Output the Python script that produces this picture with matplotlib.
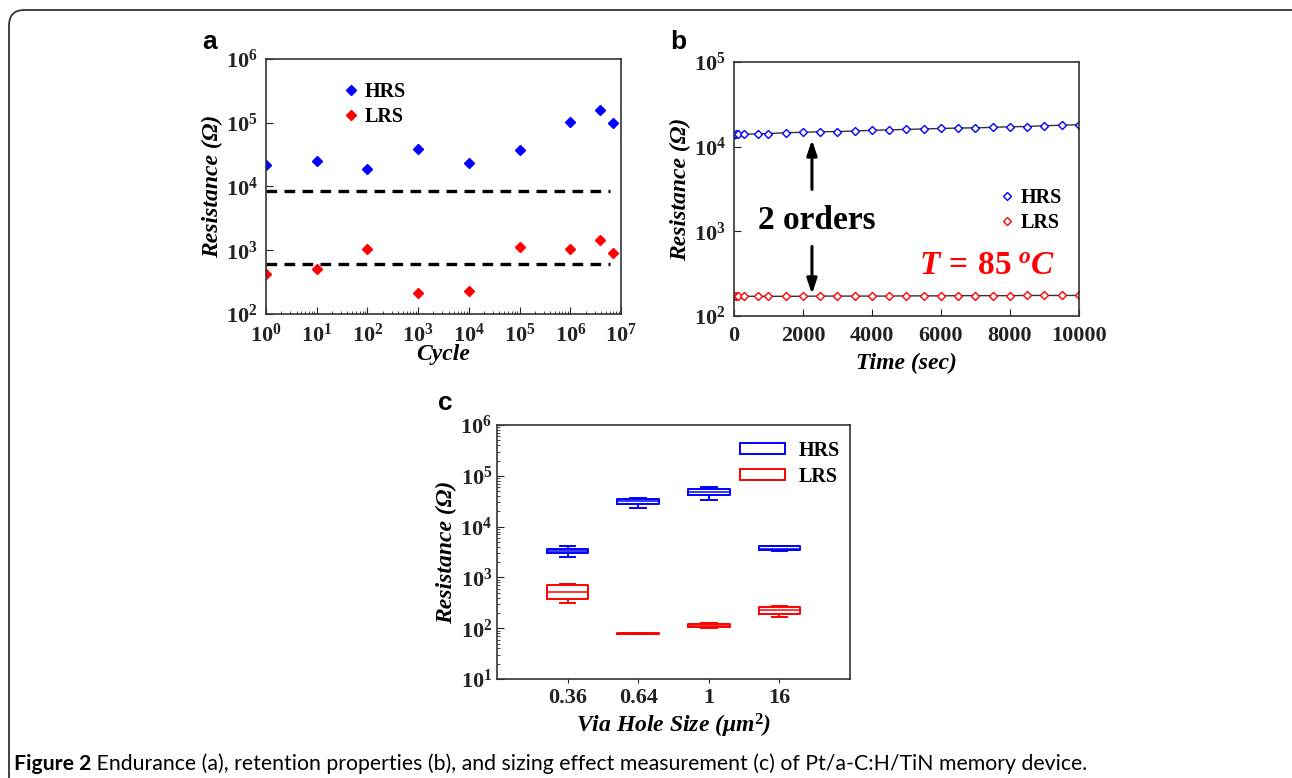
import math
import matplotlib
matplotlib.use('Agg')
import matplotlib.pyplot as plt
from matplotlib.patches import FancyBboxPatch, Patch
from matplotlib.ticker import FixedLocator, FuncFormatter, LogLocator, NullFormatter

plt.rcParams['font.family'] = ['Liberation Serif', 'DejaVu Serif']
plt.rcParams['font.weight'] = 'bold'
plt.rcParams['mathtext.fontset'] = 'custom'
plt.rcParams['mathtext.rm'] = 'Liberation Serif:bold'
plt.rcParams['mathtext.bf'] = 'Liberation Serif:bold'
plt.rcParams['mathtext.it'] = 'Liberation Serif:bold:italic'

# (a) endurance
cycles = [1, 10, 100, 1e3, 1e4, 1e5, 1e6, 3.9e6, 6.9e6]
hrs_cycle = [2.2e4, 2.47e4, 1.9e4, 3.9e4, 2.35e4, 3.67e4, 1.04e5, 1.59e5, 1.0e5]
lrs_cycle = [430, 509, 1062, 211, 227, 1128, 1062, 1453, 908]
hrs_limit = 8.45e3
lrs_limit = 603
limit_span = [1, 6e6]

# (b) retention at 85 C
time_s = [0, 58, 117, 300, 700, 1000, 1500, 2000, 2500, 3000, 3500, 4000, 4500,
          5000, 5500, 6000, 6500, 7000, 7500, 8000, 8500, 9000, 9500, 10000]
hrs_time = [1.39e4, 1.40e4, 1.40e4, 1.40e4, 1.42e4, 1.43e4, 1.46e4, 1.48e4, 1.50e4,
            1.51e4, 1.53e4, 1.56e4, 1.58e4, 1.60e4, 1.62e4, 1.64e4, 1.66e4, 1.67e4,
            1.69e4, 1.72e4, 1.73e4, 1.77e4, 1.79e4, 1.82e4]
lrs_time = [171, 171, 171, 171, 171, 171, 171, 171, 172, 172, 172, 172, 172,
            173, 173, 173, 174, 174, 174, 174, 175, 175, 175, 175]

# (c) via hole size boxes: whislo, q1, med, q3, whishi
sizes = ['0.36', '0.64', '1', '16']
hrs_whislo = [2.57e3, 2.37e4, 3.36e4, 3.28e3]
hrs_q1 = [3.05e3, 2.76e4, 4.27e4, 3.44e3]
hrs_med = [3.33e3, 3.2e4, 4.74e4, 3.7e3]
hrs_q3 = [3.65e3, 3.56e4, 5.43e4, 4.2e3]
hrs_whishi = [4.25e3, 3.73e4, 6.04e4, 4.25e3]
lrs_whislo = [312, 77, 100, 163]
lrs_q1 = [374, 77.5, 105, 192]
lrs_med = [513, 78.5, 112, 231]
lrs_q3 = [705, 79.5, 119, 263]
lrs_whishi = [738, 80, 124, 276]

BLUE = '#0000ff'
RED = '#ff0000'
TICK_FS = 16
LABEL_FS = 17
LEG_PROP = {'family': 'Liberation Serif', 'weight': 'bold', 'size': 14.5}


def pow10(v, pos):
    return r'$\mathbf{10^{%d}}$' % round(math.log10(v))


def style_axes(ax):
    for s in ax.spines.values():
        s.set_color('#333333')
        s.set_linewidth(1.2)
    ax.tick_params(which='both', direction='in', labelsize=TICK_FS, colors='#222222')
    ax.tick_params(which='major', length=5)
    ax.tick_params(which='minor', length=2.5)


fig = plt.figure(figsize=(12.92, 7.78), dpi=100)

# panel a
ax_a = fig.add_axes([0.2059, 0.5964, 0.2748, 0.3278])
ax_a.set_xscale('log')
ax_a.set_yscale('log')
ax_a.plot(cycles, hrs_cycle, 'D', color=BLUE, ms=5, label='HRS')
ax_a.plot(cycles, lrs_cycle, 'D', color=RED, ms=5, label='LRS')
ax_a.plot(limit_span, [hrs_limit, hrs_limit], color='black', lw=2.4, ls=(0, (3.2, 2.2)))
ax_a.plot(limit_span, [lrs_limit, lrs_limit], color='black', lw=2.4, ls=(0, (3.2, 2.2)))
ax_a.set_xlim(1, 1e7)
ax_a.set_ylim(1e2, 1e6)
ax_a.xaxis.set_major_locator(LogLocator(base=10, numticks=10))
ax_a.xaxis.set_major_formatter(FuncFormatter(pow10))
ax_a.xaxis.set_minor_locator(LogLocator(base=10, subs=range(2, 10), numticks=20))
ax_a.xaxis.set_minor_formatter(NullFormatter())
ax_a.yaxis.set_major_locator(FixedLocator([1e2, 1e3, 1e4, 1e5, 1e6]))
ax_a.yaxis.set_major_formatter(FuncFormatter(pow10))
ax_a.yaxis.set_minor_locator(FixedLocator([]))
style_axes(ax_a)
ax_a.tick_params(axis='x', which='major', pad=7)
ax_a.tick_params(axis='y', which='major', pad=6)
ax_a.set_xlabel('Cycle', fontsize=LABEL_FS, style='italic', fontweight='bold', labelpad=-2)
ax_a.set_ylabel('Resistance (Ω)', fontsize=LABEL_FS, style='italic', fontweight='bold', labelpad=2)
ax_a.legend(loc='upper left', bbox_to_anchor=(0.17, 0.98), frameon=False,
            handlelength=0.6, handletextpad=0.4, labelspacing=0.25, prop=LEG_PROP)

# panel b
ax_b = fig.add_axes([0.5681, 0.5938, 0.2670, 0.3265])
ax_b.set_yscale('log')
ax_b.plot(time_s, hrs_time, '-', color='#333333', lw=1.0, zorder=1)
ax_b.plot(time_s, lrs_time, '-', color='#333333', lw=1.0, zorder=1)
ax_b.plot(time_s, hrs_time, 'D', ls='none', mfc='white', mec=BLUE, ms=4.5, mew=1.0, label='HRS', zorder=2)
ax_b.plot(time_s, lrs_time, 'D', ls='none', mfc='white', mec=RED, ms=4.5, mew=1.0, label='LRS', zorder=2)
ax_b.set_xlim(0, 10000)
ax_b.set_ylim(1e2, 1e5)
ax_b.set_xticks([0, 2000, 4000, 6000, 8000, 10000])
ax_b.yaxis.set_major_locator(FixedLocator([1e2, 1e3, 1e4, 1e5]))
ax_b.yaxis.set_major_formatter(FuncFormatter(pow10))
ax_b.yaxis.set_minor_locator(FixedLocator([]))
style_axes(ax_b)
ax_b.tick_params(axis='x', which='major', pad=7)
ax_b.tick_params(axis='y', which='major', pad=6)
ax_b.set_xlabel('Time (sec)', fontsize=LABEL_FS, style='italic', fontweight='bold', labelpad=5)
ax_b.set_ylabel('Resistance (Ω)', fontsize=LABEL_FS, style='italic', fontweight='bold', labelpad=2)
ax_b.annotate('', xy=(2260, 1.3e4), xytext=(2260, 2.9e3),
              arrowprops=dict(arrowstyle='-|>,head_length=0.9,head_width=0.3', color='black', lw=2.2))
ax_b.annotate('', xy=(2260, 168), xytext=(2260, 715),
              arrowprops=dict(arrowstyle='-|>,head_length=0.9,head_width=0.3', color='black', lw=2.2))
ax_b.text(2400, 1350, '2 orders', fontsize=24, fontweight='bold', ha='center', va='center')
ax_b.text(7350, 380, r'$\mathit{T\,=\,85\;^{o}C}$', fontsize=24, color=RED, ha='center', va='center')
ax_b.legend(loc='upper left', bbox_to_anchor=(0.72, 0.575), frameon=False,
            handlelength=0.6, handletextpad=0.4, labelspacing=0.25, prop=LEG_PROP)

# panel c
ax_c = fig.add_axes([0.3847, 0.1272, 0.2732, 0.3265])
ax_c.set_yscale('log')
positions = [1, 2, 3, 4]


def box_stats(lo, q1, med, q3, hi):
    return [dict(whislo=a, q1=b, med=c, q3=d, whishi=e, fliers=[])
            for a, b, c, d, e in zip(lo, q1, med, q3, hi)]


for stats, col in [(box_stats(hrs_whislo, hrs_q1, hrs_med, hrs_q3, hrs_whishi), BLUE),
                   (box_stats(lrs_whislo, lrs_q1, lrs_med, lrs_q3, lrs_whishi), RED)]:
    ax_c.bxp(stats, positions=positions, widths=0.59, showfliers=False,
             boxprops=dict(color=col, lw=1.4), whiskerprops=dict(color=col, lw=1.4),
             capprops=dict(color=col, lw=1.4), medianprops=dict(color=col, lw=1.1),
             capwidths=0.22, manage_ticks=False)
ax_c.set_xlim(0, 5)
ax_c.set_ylim(1e1, 1e6)
ax_c.set_xticks(positions)
ax_c.set_xticklabels(sizes)
ax_c.yaxis.set_major_locator(FixedLocator([1e1, 1e2, 1e3, 1e4, 1e5, 1e6]))
ax_c.yaxis.set_major_formatter(FuncFormatter(pow10))
ax_c.yaxis.set_minor_locator(LogLocator(base=10, subs=range(2, 10), numticks=20))
ax_c.yaxis.set_minor_formatter(NullFormatter())
style_axes(ax_c)
ax_c.tick_params(axis='x', which='major', direction='out', length=3)
ax_c.set_xlabel('Via Hole Size (μm$^{\\mathit{2}}$)', fontsize=LABEL_FS, style='italic',
                fontweight='bold', labelpad=3)
ax_c.set_ylabel('Resistance (Ω)', fontsize=LABEL_FS, style='italic', fontweight='bold', labelpad=2)
ax_c.legend(handles=[Patch(facecolor='white', edgecolor=BLUE, lw=1.4, label='HRS'),
                     Patch(facecolor='white', edgecolor=RED, lw=1.4, label='LRS')],
            loc='upper right', bbox_to_anchor=(1.023, 1.01), frameon=False,
            handlelength=2.2, handleheight=0.5, handletextpad=0.7, labelspacing=0.3,
            prop=LEG_PROP)

# panel letters
for x, y, s in [(210, 42, 'a'), (678, 42, 'b'), (445, 403, 'c')]:
    fig.text(x / 1292, 1 - y / 778, s, fontsize=19, fontweight='bold',
             family='Liberation Sans', ha='center', va='center')

# frame around figure
frame = FancyBboxPatch((9 / 1292, -0.05), 1.2, 1 - 10 / 778 + 0.05,
                       boxstyle='round,pad=0,rounding_size=0.012',
                       transform=fig.transFigure, fill=False, ec='#333333', lw=1.3,
                       mutation_aspect=1292 / 778)
fig.add_artist(frame)

# caption
cap_font = ['Lato', 'DejaVu Sans']
t1 = fig.text(14 / 1292, 1 - 770 / 778, 'Figure 2', fontsize=15.3, fontweight='bold',
              family=cap_font, va='baseline', ha='left', color='black')
ax_c.annotate(' Endurance (a), retention properties (b), and sizing effect measurement (c) '
              'of Pt/a-C:H/TiN memory device.', xy=(1, 0), xycoords=t1, va='bottom',
              ha='left', fontsize=15.3, fontweight='normal', family=cap_font,
              color='black', annotation_clip=False)

fig.savefig('out.png', dpi=100)
